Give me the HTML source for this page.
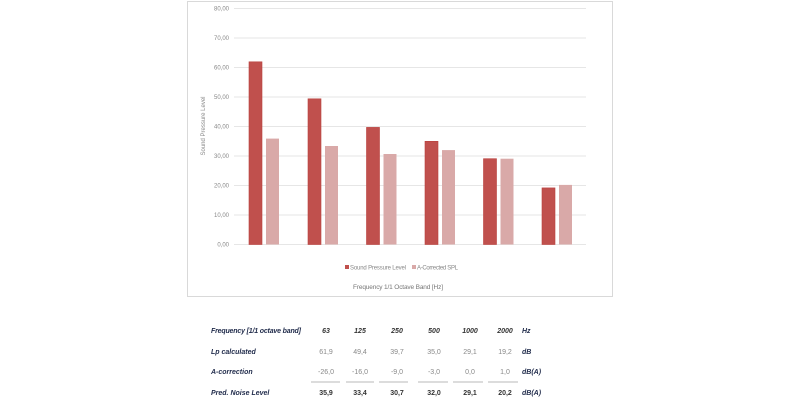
<!DOCTYPE html>
<html><head><meta charset="utf-8"><style>
body{margin:0;background:#fff;width:800px;height:400px;overflow:hidden;font-family:"Liberation Sans",sans-serif}
</style></head><body>
<svg width="800" height="400" xmlns="http://www.w3.org/2000/svg" font-family="Liberation Sans, sans-serif">
<rect x="187.5" y="1.5" width="425" height="295" fill="#fff" stroke="#d9d9d9"/>
<g stroke="#e6e6e6" stroke-width="1">
<line x1="234" x2="586" y1="8.5" y2="8.5"/><line x1="234" x2="586" y1="38" y2="38"/>
<line x1="234" x2="586" y1="67.5" y2="67.5"/><line x1="234" x2="586" y1="97" y2="97"/>
<line x1="234" x2="586" y1="126.5" y2="126.5"/><line x1="234" x2="586" y1="156" y2="156"/>
<line x1="234" x2="586" y1="185.5" y2="185.5"/><line x1="234" x2="586" y1="215" y2="215"/>
<line x1="234" x2="586" y1="244.5" y2="244.5"/>
</g>
<g font-size="6" fill="#888" text-anchor="end">
<text x="229" y="10.5">80,00</text><text x="229" y="40">70,00</text><text x="229" y="69.5">60,00</text>
<text x="229" y="99">50,00</text><text x="229" y="128.5">40,00</text><text x="229" y="158">30,00</text>
<text x="229" y="187.5">20,00</text><text x="229" y="217">10,00</text><text x="229" y="246.5">0,00</text>
</g>
<text transform="translate(205,126) rotate(-90)" font-size="6" fill="#888" text-anchor="middle">Sound Pressure Level</text>
<g fill="#c0504d" stroke="#b9403d" stroke-width="0.6">
<rect x="249" y="61.8" width="13" height="182.7"/>
<rect x="308" y="98.8" width="13" height="145.7"/>
<rect x="366.5" y="127.4" width="13" height="117.1"/>
<rect x="425" y="141.3" width="13" height="103.2"/>
<rect x="483.5" y="158.7" width="13" height="85.8"/>
<rect x="542" y="187.9" width="13" height="56.6"/>
</g>
<g fill="#d9a9a8">
<rect x="266" y="138.6" width="13" height="105.9"/>
<rect x="325" y="146" width="13" height="98.5"/>
<rect x="383.5" y="154" width="13" height="90.5"/>
<rect x="442" y="150.1" width="13" height="94.4"/>
<rect x="500.5" y="158.7" width="13" height="85.8"/>
<rect x="559" y="184.9" width="13" height="59.6"/>
</g>
<rect x="345" y="265" width="4" height="4" fill="#c0504d"/>
<text x="350" y="269.5" font-size="6" fill="#888" textLength="56">Sound Pressure Level</text>
<rect x="412" y="265" width="4" height="4" fill="#d9a9a8"/>
<text x="417" y="269.5" font-size="6" fill="#888" textLength="41">A-Corrected SPL</text>
<text x="398" y="289" font-size="6.5" fill="#777" text-anchor="middle" textLength="90">Frequency 1/1 Octave Band [Hz]</text>

<g font-size="7" font-style="italic" font-weight="bold" fill="#1f2a4a">
<text x="211" y="333" textLength="90">Frequency [1/1 octave band]</text>
<text x="211" y="354">Lp calculated</text>
<text x="211" y="374">A-correction</text>
<text x="211" y="395">Pred. Noise Level</text>
</g>
<g font-size="7" font-style="italic" font-weight="bold" fill="#333" text-anchor="middle">
<text x="326" y="333">63</text><text x="360" y="333">125</text><text x="397" y="333">250</text>
<text x="434" y="333">500</text><text x="470" y="333">1000</text><text x="505" y="333">2000</text>
</g>
<g font-size="7" font-style="italic" font-weight="bold" fill="#1f2a4a">
<text x="522" y="333">Hz</text><text x="522" y="354">dB</text><text x="522" y="374">dB(A)</text><text x="522" y="395">dB(A)</text>
</g>
<g font-size="7" fill="#888" text-anchor="middle">
<text x="326" y="354">61,9</text><text x="360" y="354">49,4</text><text x="397" y="354">39,7</text>
<text x="434" y="354">35,0</text><text x="470" y="354">29,1</text><text x="505" y="354">19,2</text>
<text x="326" y="374">-26,0</text><text x="360" y="374">-16,0</text><text x="397" y="374">-9,0</text>
<text x="434" y="374">-3,0</text><text x="470" y="374">0,0</text><text x="505" y="374">1,0</text>
</g>
<g stroke="#777" stroke-width="0.6">
<line x1="311" x2="340" y1="382" y2="382"/><line x1="346" x2="374" y1="382" y2="382"/>
<line x1="379" x2="408" y1="382" y2="382"/><line x1="418" x2="448" y1="382" y2="382"/>
<line x1="453" x2="483" y1="382" y2="382"/><line x1="488" x2="518" y1="382" y2="382"/>
</g>
<g font-size="7" font-weight="bold" fill="#333" text-anchor="middle">
<text x="326" y="395">35,9</text><text x="360" y="395">33,4</text><text x="397" y="395">30,7</text>
<text x="434" y="395">32,0</text><text x="470" y="395">29,1</text><text x="505" y="395">20,2</text>
</g>
</svg>
</body></html>
